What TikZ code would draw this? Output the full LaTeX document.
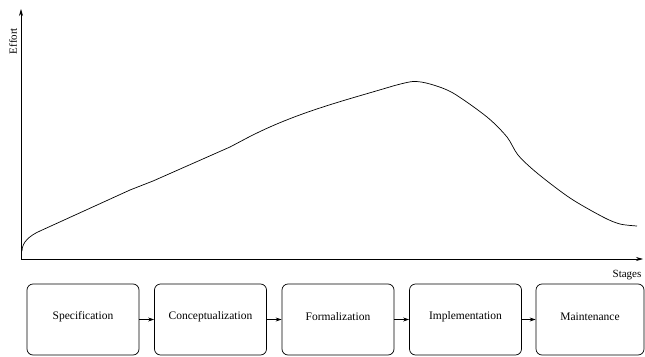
\documentclass[tikz,border=0pt]{standalone}
\usepackage{fontspec}
\setmainfont{Liberation Serif}
\usetikzlibrary{arrows.meta}
\newcommand{\uptxt}[1]{\raisebox{3pt}[\height][\depth]{#1}}
\begin{document}
\begin{tikzpicture}[x=1pt,y=-1pt,
  stagebox/.style={draw,line width=0.7pt,rounded corners=6pt,minimum width=112pt,minimum height=71pt,inner sep=0pt,font=\fontsize{11.5}{13}\selectfont},
  flow/.style={-{Stealth[length=6pt,width=4pt]},line width=0.6pt},
  axis/.style={-{Stealth[length=7pt,width=4pt]},line width=0.7pt},
  lbl/.style={font=\fontsize{11}{13}\selectfont,inner sep=0pt}]
\useasboundingbox (0,0) rectangle (645,356);
\coordinate (o) at (21,259);
\coordinate (ytip) at (21,9);
\coordinate (xtip) at (643,259);
\draw[axis] (o) -- (ytip);
\draw[axis] (o) -- (xtip);
\node[lbl,rotate=90] (effort) at (13,41) {Effort};
\node[lbl] (stages) at (627,275) {Stages};
\draw[line width=0.7pt,line join=round]
  (22,251) .. controls (22,242) and (30,235.4) .. (40,231)
  -- (130,190) -- (153,181) -- (230,147)
  .. controls (238,143) .. (247,138)
  .. controls (296,112.5) and (344,100.7) .. (393,86)
  -- plot[smooth,tension=0.5] coordinates {(393,86) (413,81.5) (430,84) (453,93)
     (487,117) (507,137) (518,155) (537,173) (570,198) (603,217) (620,224) (637,226)};
\node[stagebox] (s1) at (83,319.5) {\uptxt{Specification}};
\node[stagebox] (s2) at (210.5,319.5) {\uptxt{Conceptualization}};
\node[stagebox] (s3) at (338,319.5) {\uptxt{Formalization}};
\node[stagebox] (s4) at (465.5,319.5) {\uptxt{Implementation}};
\node[stagebox,minimum width=108pt] (s5) at (590,319.5) {\uptxt{Maintenance}};
\draw[flow] (s1) -- (s2);
\draw[flow] (s2) -- (s3);
\draw[flow] (s3) -- (s4);
\draw[flow] (s4) -- (s5);
\end{tikzpicture}
\end{document}
